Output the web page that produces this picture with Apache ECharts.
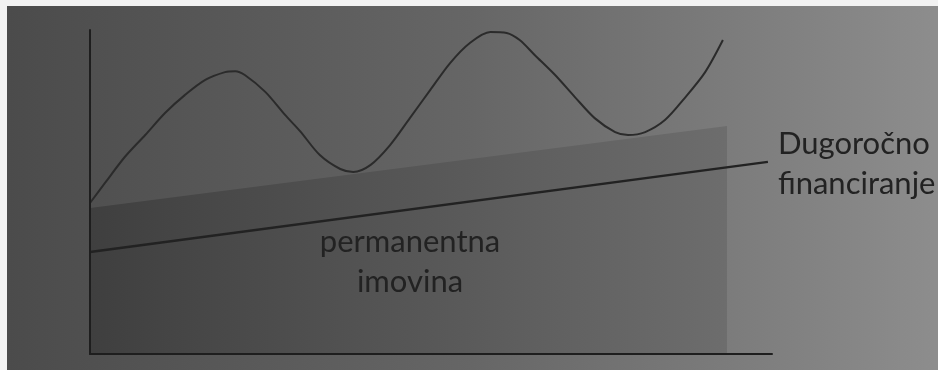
<!DOCTYPE html>
<html>
<head>
<meta charset="utf-8">
<script src="https://cdn.jsdelivr.net/npm/echarts@6/dist/echarts.min.js"></script>
<style>
  html, body { margin: 0; padding: 0; background: #f2f2f2; }
  #chart { position: absolute; left: 7px; top: 6px; width: 931px; height: 364px; }
</style>
</head>
<body>
<div id="chart"></div>
<script>
// wavy curve (total assets), x / y in 0..100 units
var waveX = [0, 2.2, 5.1, 8.1, 11.0, 13.9, 16.9, 19.8, 21.3, 22.7, 25.7, 28.6, 30.8, 33.7, 36.7, 38.6,
             41.1, 44.0, 46.9, 49.9, 52.8, 55.7, 58.7, 61.1, 63.0, 65.2, 68.2, 71.1, 74.0, 77.0,
             78.9, 81.4, 84.3, 87.2, 90.2, 92.8];
var waveY = [46.6, 52.8, 60.8, 67.6, 74.4, 79.9, 84.6, 87.0, 87.3, 86.1, 80.9, 73.8, 68.8, 61.4, 57.1, 56.2,
             58.3, 64.5, 72.8, 81.5, 89.8, 96.0, 99.4, 99.1, 96.9, 92.3, 86.1, 79.3, 72.8, 68.5,
             67.6, 68.5, 72.2, 79.0, 87.0, 96.9];

// permanent assets band (top edge)
var bandX = [0, 93.4];
var bandY = [45.1, 70.4];

// long-term financing line
var lineX = [0, 99.4];
var lineY = [31.5, 59.3];

var assetLabel = 'permanentna\nimovina';
var financeLabel = 'Dugoročno\nfinanciranje';

function pairs(xs, ys) {
    var out = [];
    xs.forEach(function (x, i) { out.push([x, ys[i]]); });
    return out;
}

var chart = echarts.init(document.getElementById('chart'));

var textFont = 'Lato, "Open Sans", sans-serif';

var option = {
    animation: false,
    backgroundColor: new echarts.graphic.LinearGradient(0, 0, 1, 0, [
        { offset: 0, color: '#4b4b4b' },
        { offset: 0.5, color: '#666666' },
        { offset: 1, color: '#8d8d8d' }
    ]),
    grid: { left: 83, top: 24, right: 166, bottom: 16 },
    xAxis: {
        type: 'value', min: 0, max: 100, z: 10,
        axisLine: { show: true, onZero: false, lineStyle: { color: '#1e1e1e', width: 2 } },
        axisTick: { show: false }, axisLabel: { show: false }, splitLine: { show: false }
    },
    yAxis: {
        type: 'value', min: 0, max: 100, z: 10,
        axisLine: { show: true, onZero: false, lineStyle: { color: '#1e1e1e', width: 2 } },
        axisTick: { show: false }, axisLabel: { show: false }, splitLine: { show: false }
    },
    series: [
        {
            name: 'band',
            type: 'line',
            data: pairs(bandX, bandY),
            symbol: 'none',
            lineStyle: { width: 0 },
            areaStyle: {
                opacity: 1,
                color: new echarts.graphic.LinearGradient(0, 0, 1, 0, [
                    { offset: 0, color: '#3f3f3f' },
                    { offset: 1, color: '#6d6d6d' }
                ])
            },
            z: 1
        },
        {
            name: 'wave',
            type: 'line',
            data: pairs(waveX, waveY),
            smooth: 0.3,
            symbol: 'none',
            lineStyle: { color: '#2b2b2b', width: 2 },
            z: 3
        },
        {
            name: 'financing',
            type: 'line',
            data: pairs(lineX, lineY),
            symbol: 'none',
            lineStyle: { color: '#222', width: 2.5 },
            endLabel: {
                show: true,
                formatter: financeLabel,
                color: '#222',
                fontFamily: textFont,
                fontSize: 31,
                lineHeight: 40,
                align: 'left',
                offset: [2, 2]
            },
            z: 3
        }
    ],
    graphic: [
        {
            type: 'text',
            x: 403,
            y: 216,
            z: 20,
            style: {
                text: assetLabel,
                fill: '#222',
                font: '31px ' + textFont,
                lineHeight: 40,
                align: 'center',
                textAlign: 'center'
            }
        }
    ]
};

chart.setOption(option);
</script>
</body>
</html>
